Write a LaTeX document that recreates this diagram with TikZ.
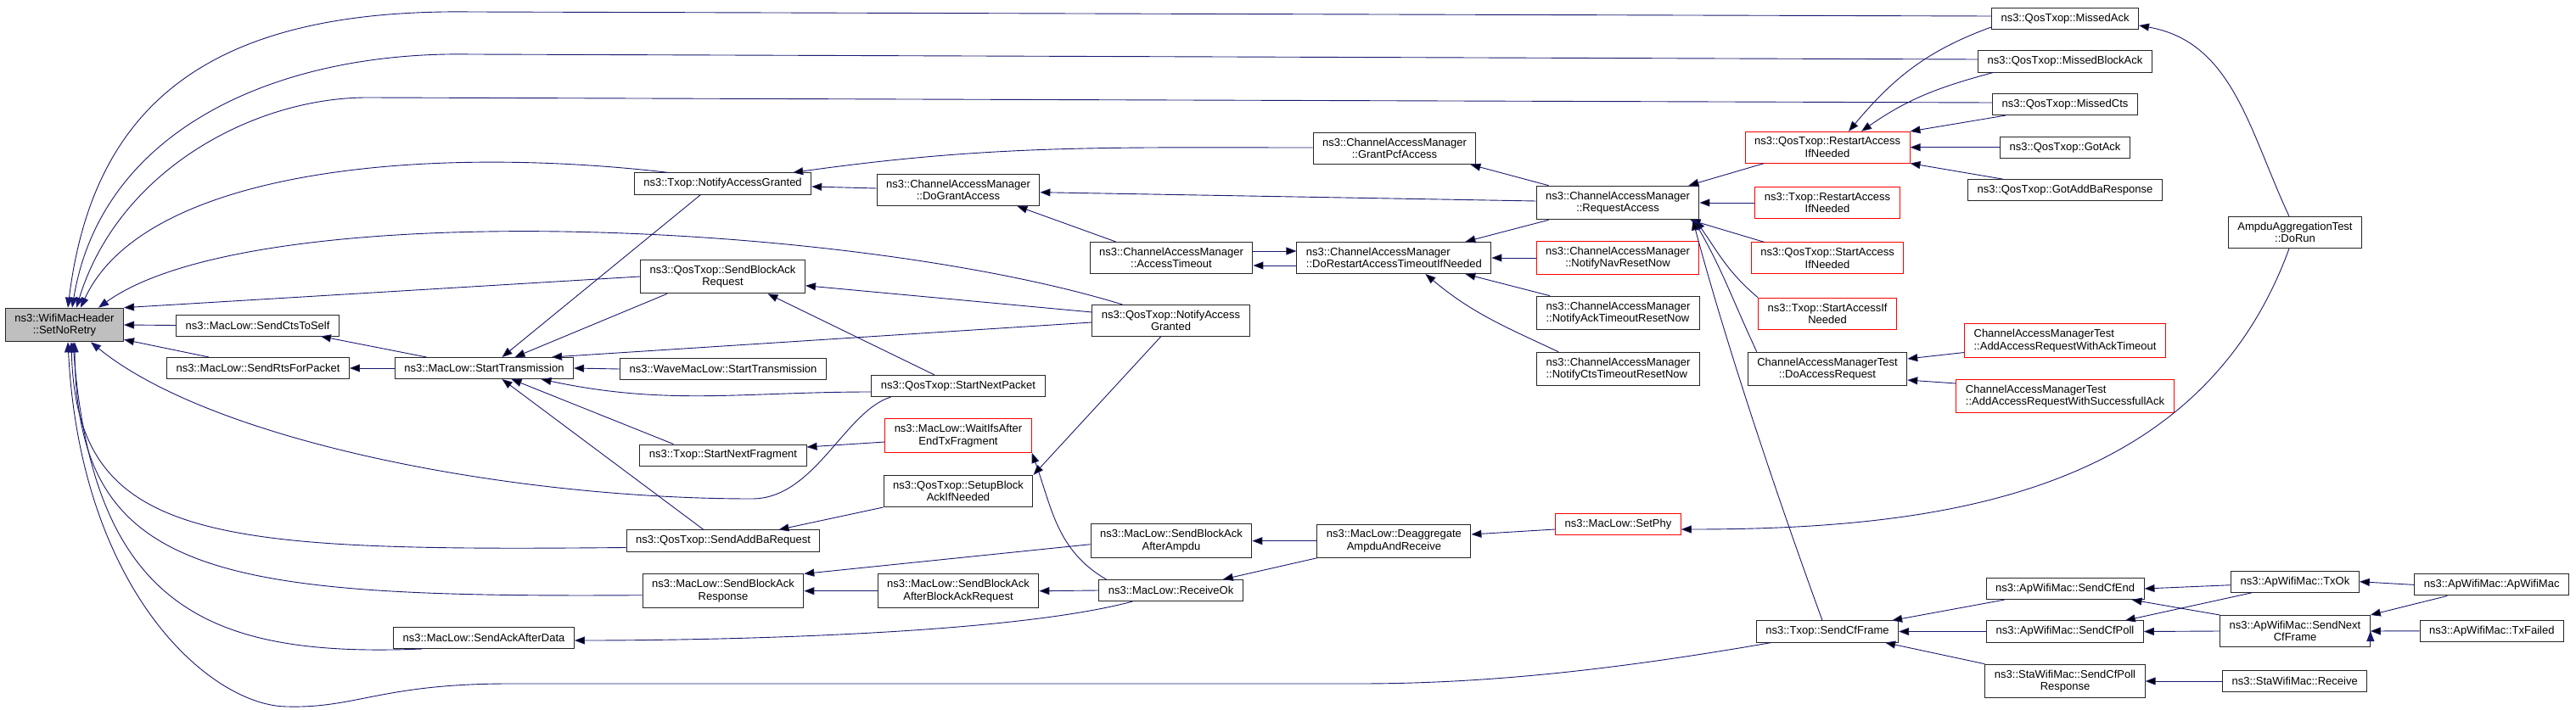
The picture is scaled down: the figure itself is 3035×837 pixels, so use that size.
\documentclass[tikz,border=0pt]{standalone}
\usepackage{fontspec}
\setmainfont{Liberation Sans}
\usetikzlibrary{arrows.meta}
\definecolor{callblue}{RGB}{25,25,112}

\begin{document}
\begin{tikzpicture}[x=1pt,y=1pt,>={Triangle[length=12pt,width=9pt]},
   fn/.style={draw=black!85,line width=1pt,fill=white,rectangle,align=center,
     font=\fontsize{13}{14.5}\selectfont,inner xsep=11pt,inner ysep=6.5pt,minimum height=25pt},
   trunc/.style={fn,draw=red},
   root/.style={fn,fill=gray!50},
   call/.style={draw=callblue,line width=.9pt,<-}]
   \useasboundingbox (0,0) rectangle (3035,-837);

   \node[root] (setNoRetry) at (76,-383) {ns3::WifiMacHeader\\::SetNoRetry};
   \node[fn] (sendCtsToSelf) at (303.5,-383.5) {ns3::MacLow::SendCtsToSelf};
   \node[fn] (sendRts) at (304,-434) {ns3::MacLow::SendRtsForPacket};
   \node[fn] (startTx) at (570.5,-434) {ns3::MacLow::StartTransmission};
   \node[fn] (sendAckAfterData) at (570,-752) {ns3::MacLow::SendAckAfterData};
   \node[fn] (txopNAG) at (851.5,-216.5) {ns3::Txop::NotifyAccessGranted};
   \node[fn] (sendBAR) at (851.5,-326) {ns3::QosTxop::SendBlockAck\\Request};
   \node[fn] (waveStartTx) at (852,-435) {ns3::WaveMacLow::StartTransmission};
   \node[fn] (startNextFragment) at (852,-536.5) {ns3::Txop::StartNextFragment};
   \node[fn] (sendAddBa) at (852,-637.5) {ns3::QosTxop::SendAddBaRequest};
   \node[fn] (sendBAResponse) at (852,-696.7) {ns3::MacLow::SendBlockAck\\Response};
   \node[fn] (doGrantAccess) at (1129,-224) {ns3::ChannelAccessManager\\::DoGrantAccess};
   \node[fn] (startNextPacket) at (1129,-455) {ns3::QosTxop::StartNextPacket};
   \node[trunc] (waitIfs) at (1129,-513.5) {ns3::MacLow::WaitIfsAfter\\EndTxFragment};
   \node[fn] (setupBA) at (1129,-579) {ns3::QosTxop::SetupBlock\\AckIfNeeded};
   \node[fn] (sendBAAfterBAR) at (1129,-696.7) {ns3::MacLow::SendBlockAck\\AfterBlockAckRequest};
   \node[fn] (accessTimeout) at (1380,-304) {ns3::ChannelAccessManager\\::AccessTimeout};
   \node[fn] (qosNAG) at (1379.5,-378) {ns3::QosTxop::NotifyAccess\\Granted};
   \node[fn] (sendBAAfterAmpdu) at (1380,-637.7) {ns3::MacLow::SendBlockAck\\AfterAmpdu};
   \node[fn] (receiveOk) at (1379.6,-696) {ns3::MacLow::ReceiveOk};
   \node[fn] (grantPcf) at (1643,-175) {ns3::ChannelAccessManager\\::GrantPcfAccess};
   \node[fn,align=left] (doRestart) at (1642.4,-304) {ns3::ChannelAccessManager\\::DoRestartAccessTimeoutIfNeeded};
   \node[fn] (deaggregate) at (1642.4,-637.7) {ns3::MacLow::Deaggregate\\AmpduAndReceive};
   \node[fn] (requestAccess) at (1906,-239) {ns3::ChannelAccessManager\\::RequestAccess};
   \node[trunc] (notifyNav) at (1906,-304) {ns3::ChannelAccessManager\\::NotifyNavResetNow};
   \node[fn,align=left] (notifyAck) at (1906.5,-369) {ns3::ChannelAccessManager\\::NotifyAckTimeoutResetNow};
   \node[fn,align=left] (notifyCts) at (1906.5,-435) {ns3::ChannelAccessManager\\::NotifyCtsTimeoutResetNow};
   \node[trunc] (setPhy) at (1906.4,-618) {ns3::MacLow::SetPhy};
   \node[trunc] (qosRestart) at (2153,-173.7) {ns3::QosTxop::RestartAccess\\IfNeeded};
   \node[trunc] (txopRestart) at (2153,-239) {ns3::Txop::RestartAccess\\IfNeeded};
   \node[trunc] (qosStartAccess) at (2153,-304.3) {ns3::QosTxop::StartAccess\\IfNeeded};
   \node[trunc] (txopStartAccess) at (2153,-369.7) {ns3::Txop::StartAccessIf\\Needed};
   \node[fn] (doAccessRequest) at (2153,-435) {ChannelAccessManagerTest\\::DoAccessRequest};
   \node[fn] (sendCfFrame) at (2153,-744.5) {ns3::Txop::SendCfFrame};
   \node[fn] (missedAck) at (2433,-22) {ns3::QosTxop::MissedAck};
   \node[fn] (missedBA) at (2433,-72.5) {ns3::QosTxop::MissedBlockAck};
   \node[fn] (missedCts) at (2433,-123) {ns3::QosTxop::MissedCts};
   \node[fn] (gotAck) at (2433,-173.7) {ns3::QosTxop::GotAck};
   \node[fn] (gotAddBa) at (2433,-224.3) {ns3::QosTxop::GotAddBaResponse};
   \node[trunc,align=left] (addAckTimeout) at (2433,-401.5) {ChannelAccessManagerTest\\::AddAccessRequestWithAckTimeout};
   \node[trunc,align=left] (addSuccAck) at (2433,-467) {ChannelAccessManagerTest\\::AddAccessRequestWithSuccessfullAck};
   \node[fn] (sendCfEnd) at (2433,-694) {ns3::ApWifiMac::SendCfEnd};
   \node[fn] (sendCfPoll) at (2433,-744.5) {ns3::ApWifiMac::SendCfPoll};
   \node[fn] (sendCfPollResp) at (2433,-803) {ns3::StaWifiMac::SendCfPoll\\Response};
   \node[fn] (doRun) at (2704,-274) {AmpduAggregationTest\\::DoRun};
   \node[fn] (txOk) at (2704,-685.7) {ns3::ApWifiMac::TxOk};
   \node[fn] (sendNextCf) at (2704,-744) {ns3::ApWifiMac::SendNext\\CfFrame};
   \node[fn] (staReceive) at (2703.7,-803) {ns3::StaWifiMac::Receive};
   \node[fn] (apWifiMac) at (2935.7,-689.4) {ns3::ApWifiMac::ApWifiMac};
   \node[fn] (txFailed) at (2935.8,-743.8) {ns3::ApWifiMac::TxFailed};

   \draw[call] ([xshift=4pt]setNoRetry.north) .. controls (110,-120) and (250,-10) .. (555,-14) -- ([yshift=3pt]missedAck.west);
   \draw[call] ([xshift=9pt]setNoRetry.north) .. controls (120,-150) and (330,-60) .. (555,-64) -- ([yshift=2.5pt]missedBA.west);
   \draw[call] ([xshift=14pt]setNoRetry.north) .. controls (140,-200) and (300,-115) .. (433,-115) -- ([yshift=2pt]missedCts.west);
   \draw[call] ([xshift=19pt]setNoRetry.north) .. controls (170,-200) and (500,-170) .. ([xshift=41pt]txopNAG.north west);
   \draw[call] ([xshift=40pt]setNoRetry.north) .. controls (300,-230) and (1000,-260) .. ([xshift=36pt]qosNAG.north west);
   \draw[call] ([xshift=31pt]setNoRetry.south) .. controls (250,-520) and (600,-588) .. (886,-588)
      .. controls (960,-588) and (995,-485) .. ([xshift=23pt]startNextPacket.south west);
   \draw[call] ([xshift=8pt]setNoRetry.south) .. controls (90,-640) and (250,-650) .. ([yshift=-8pt]sendAddBa.west);
   \draw[call] ([xshift=12pt]setNoRetry.south) .. controls (90,-680) and (250,-705) .. ([yshift=-5pt]sendBAResponse.west);
   \draw[call] ([xshift=10pt]setNoRetry.south) .. controls (110,-720) and (250,-775) .. ([xshift=34pt]sendAckAfterData.south west);
   \draw[call] ([xshift=4pt]setNoRetry.south) .. controls (95,-700) and (250,-833) .. (339,-833)
      .. controls (420,-835) and (450,-806) .. (600,-806) -- (1600,-806)
      .. controls (1750,-806) and (1900,-790) .. ([xshift=18pt]sendCfFrame.south west);

   \path[call]
    (setNoRetry.east) edge (sendCtsToSelf.west)
    (setNoRetry.north east) edge (sendBAR.west)
    ([yshift=3pt]setNoRetry.south east) edge ([xshift=50pt]sendRts.north west)
    ([xshift=-22pt]sendCtsToSelf.south east) edge ([xshift=-68pt]startTx.north)
    (sendRts.east) edge (startTx.west)
    ([xshift=21pt]startTx.north) edge ([xshift=-26pt]txopNAG.south)
    ([xshift=36pt]startTx.north) edge ([xshift=32pt]sendBAR.south west)
    ([xshift=-26pt]startTx.north east) edge ([yshift=-2pt]qosNAG.west)
    (startTx.east) edge (waveStartTx.west)
    ([xshift=67pt]startTx.south) edge[out=-12,in=180] ([yshift=-7pt]startNextPacket.west)
    ([xshift=32pt]startTx.south) edge ([xshift=40pt]startNextFragment.north west)
    ([xshift=21pt]startTx.south) edge ([xshift=-23pt]sendAddBa.north)
    ([yshift=-3.5pt]txopNAG.east) edge ([yshift=2pt]doGrantAccess.west)
    ([xshift=-22pt]txopNAG.north east) edge[out=8,in=180] ([yshift=1pt]grantPcf.west)
    ([yshift=-2.7pt]doGrantAccess.east) edge ([yshift=2pt]requestAccess.west)
    ([xshift=-27pt]doGrantAccess.south east) edge ([xshift=31pt]accessTimeout.north west)
    ([yshift=-10.7pt]sendBAR.east) edge ([yshift=10pt]qosNAG.west)
    ([xshift=53pt]sendBAR.south) edge ([xshift=-28pt]startNextPacket.north)
    ([yshift=9.5pt]startNextFragment.east) edge ([yshift=-7.5pt]waitIfs.west)
    (waitIfs.south east) edge[out=-70,in=150] ([xshift=9pt]receiveOk.north west)
    ([xshift=-49pt]sendAddBa.north east) edge (setupBA.south west)
    (setupBA.north east) edge ([xshift=-12pt]qosNAG.south)
    (sendBAResponse.north east) edge ([yshift=-4pt]sendBAAfterAmpdu.west)
    (sendBAResponse.east) edge (sendBAAfterBAR.west)
    (sendBAAfterBAR.east) edge (receiveOk.west)
    ([yshift=-3pt]sendAckAfterData.east) edge[out=0,in=-165,looseness=.6] ([xshift=40pt]receiveOk.south west)
    (sendBAAfterAmpdu.east) edge (deaggregate.west)
    ([xshift=-24pt]receiveOk.north east) edge (deaggregate.south west)
    ([yshift=7.7pt]deaggregate.east) edge ([yshift=-6pt]setPhy.west)
    ([yshift=-6pt]setPhy.east) edge[out=0,in=-110] ([xshift=-7pt]doRun.south)
    ([yshift=-8pt]missedAck.east) edge[out=-10,in=115] ([xshift=-7pt]doRun.north)
    ([yshift=-9pt]accessTimeout.east) edge ([yshift=-9pt]doRestart.west)
    ([yshift=8pt]doRestart.west) edge ([yshift=8pt]accessTimeout.east)
    ([xshift=-31pt]doRestart.north east) edge ([xshift=15pt]requestAccess.south west)
    (doRestart.east) edge (notifyNav.west)
    ([xshift=-31pt]doRestart.south east) edge ([xshift=16pt]notifyAck.north west)
    ([xshift=37pt]doRestart.south) edge[out=-40,in=155] ([xshift=26pt]notifyCts.north west)
    ([xshift=-7pt]grantPcf.south east) edge ([xshift=15pt]requestAccess.north west)
    ([xshift=-13pt]requestAccess.north east) edge ([xshift=23pt]qosRestart.south west)
    (requestAccess.east) edge (txopRestart.west)
    ([xshift=-11pt]requestAccess.south east) edge ([xshift=16pt]qosStartAccess.north west)
    ([xshift=-5pt]requestAccess.south east) edge[out=-55,in=140] (txopStartAccess.north west)
    ([xshift=-7pt]requestAccess.south east) edge[out=-60,in=115] ([xshift=11pt]doAccessRequest.north west)
    ([xshift=-8pt]requestAccess.south east) edge[out=-75,in=110,looseness=.8] ([xshift=-6pt]sendCfFrame.north)
    ([xshift=25pt]qosRestart.north) edge[out=50,in=200] ([yshift=-10pt]missedAck.west)
    ([xshift=40pt]qosRestart.north) edge[out=35,in=195] ([xshift=18pt]missedBA.south west)
    (qosRestart.north east) edge ([xshift=16pt]missedCts.south west)
    (qosRestart.east) edge (gotAck.west)
    (qosRestart.south east) edge ([xshift=42pt]gotAddBa.north west)
    ([yshift=12pt]doAccessRequest.east) edge ([yshift=-14pt]addAckTimeout.west)
    ([yshift=-13pt]doAccessRequest.east) edge ([yshift=15pt]addSuccAck.west)
    ([xshift=-8pt]sendCfFrame.north east) edge ([xshift=22pt]sendCfEnd.south west)
    (sendCfFrame.east) edge (sendCfPoll.west)
    ([xshift=-16pt]sendCfFrame.south east) edge (sendCfPollResp.north west)
    (sendCfEnd.east) edge ([yshift=-4pt]txOk.west)
    ([xshift=-15pt]sendCfEnd.south east) edge (sendNextCf.north west)
    ([xshift=-22pt]sendCfPoll.north east) edge ([xshift=25pt]txOk.south west)
    (sendCfPoll.east) edge (sendNextCf.west)
    (sendCfPollResp.east) edge (staReceive.west)
    (txOk.east) edge (apWifiMac.west)
    (sendNextCf.north east) edge ([xshift=39pt]apWifiMac.south west)
    (sendNextCf.east) edge (txFailed.west);
\end{tikzpicture}
\end{document}
